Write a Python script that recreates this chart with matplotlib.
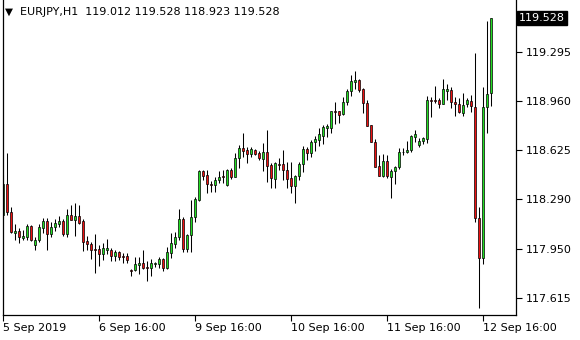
import matplotlib
matplotlib.use("Agg")
import matplotlib.pyplot as plt
from matplotlib.patches import Rectangle

# EURJPY H1 candles (bar 0 = 5 Sep 16:00)
opens = [118.180, 118.392, 118.201, 118.057, 118.071, 118.023, 118.030, 118.105, 117.975, 118.009,
         118.091, 118.139, 118.050, 118.098, 118.119, 118.139, 118.050, 118.180, 118.146, 118.173,
         118.139, 118.002, 117.982, 117.948, 117.948, 117.913, 117.941, 117.941, 117.900, 117.927,
         117.900, 117.900, 117.804, 117.804, 117.838, 117.852, 117.825, 117.818, 117.845, 117.845,
         117.879, 117.818, 117.920, 117.982, 118.030, 118.153, 117.948, 118.043, 118.167, 118.283,
         118.481, 118.454, 118.392, 118.385, 118.420, 118.447, 118.385, 118.488, 118.440, 118.570,
         118.639, 118.625, 118.597, 118.625, 118.604, 118.563, 118.611, 118.522, 118.426, 118.529,
         118.529, 118.488, 118.433, 118.379, 118.447, 118.529, 118.632, 118.604, 118.680, 118.693,
         118.721, 118.775, 118.775, 118.892, 118.892, 118.871, 118.953, 119.028, 119.090, 119.104,
         119.042, 118.946, 118.796, 118.678, 118.513, 118.449, 118.550, 118.442, 118.479, 118.507,
         118.613, 118.609, 118.625, 118.716, 118.661, 118.686, 118.702, 118.965, 118.965, 118.965,
         118.942, 119.030, 119.033, 118.951, 118.937, 118.881, 118.939, 118.960, 118.921, 118.158,
         117.888, 118.921, 119.012]
highs = [118.454, 118.604, 118.235, 118.119, 118.091, 118.078, 118.119, 118.112, 118.030, 118.119,
         118.160, 118.160, 118.132, 118.153, 118.173, 118.153, 118.221, 118.249, 118.262, 118.249,
         118.153, 118.037, 117.996, 118.050, 117.975, 117.989, 118.016, 117.955, 117.941, 117.934,
         117.920, 117.920, 117.811, 117.893, 117.893, 117.941, 117.866, 117.879, 117.859, 117.893,
         117.886, 117.961, 118.057, 118.064, 118.221, 118.167, 118.050, 118.283, 118.303, 118.488,
         118.488, 118.488, 118.413, 118.440, 118.481, 118.488, 118.495, 118.502, 118.604, 118.659,
         118.741, 118.645, 118.645, 118.632, 118.618, 118.673, 118.762, 118.536, 118.543, 118.570,
         118.625, 118.543, 118.543, 118.454, 118.543, 118.652, 118.645, 118.693, 118.721, 118.775,
         118.796, 118.803, 118.892, 118.953, 118.894, 118.987, 119.042, 119.138, 119.165, 119.110,
         119.049, 118.967, 118.799, 118.700, 118.591, 118.595, 118.591, 118.497, 118.517, 118.636,
         118.639, 118.686, 118.725, 118.760, 118.705, 118.714, 118.994, 118.989, 119.063, 118.983,
         119.108, 119.076, 119.058, 118.985, 118.978, 119.015, 118.978, 119.001, 119.290, 118.237,
         119.054, 119.509, 119.528]
lows = [118.160, 118.180, 118.057, 118.009, 117.989, 118.009, 118.009, 118.002, 117.941, 117.996,
        118.057, 117.941, 118.030, 118.071, 118.098, 118.037, 118.030, 118.146, 118.037, 118.119,
        117.934, 117.941, 117.879, 117.784, 117.831, 117.872, 117.913, 117.866, 117.866, 117.872,
        117.852, 117.852, 117.763, 117.797, 117.777, 117.811, 117.729, 117.763, 117.825, 117.818,
        117.797, 117.811, 117.886, 117.955, 118.009, 117.927, 117.927, 117.927, 118.132, 118.276,
        118.420, 118.331, 118.338, 118.338, 118.399, 118.399, 118.379, 118.426, 118.437, 118.502,
        118.577, 118.536, 118.577, 118.591, 118.556, 118.481, 118.406, 118.365, 118.365, 118.488,
        118.420, 118.365, 118.331, 118.262, 118.420, 118.474, 118.556, 118.577, 118.618, 118.652,
        118.666, 118.714, 118.741, 118.803, 118.810, 118.864, 118.933, 118.994, 119.042, 119.022,
        118.878, 118.787, 118.678, 118.507, 118.447, 118.442, 118.431, 118.294, 118.390, 118.495,
        118.591, 118.606, 118.613, 118.682, 118.647, 118.668, 118.671, 118.853, 118.944, 118.914,
        118.939, 118.967, 118.910, 118.859, 118.876, 118.857, 118.921, 118.887, 118.130, 117.546,
        117.843, 118.739, 118.923]
closes = [118.392, 118.201, 118.064, 118.071, 118.030, 118.037, 118.105, 118.009, 118.009, 118.098,
          118.139, 118.050, 118.098, 118.126, 118.139, 118.050, 118.180, 118.146, 118.173, 118.126,
          117.996, 117.982, 117.941, 117.944, 117.913, 117.955, 117.955, 117.900, 117.927, 117.893,
          117.893, 117.872, 117.797, 117.845, 117.852, 117.818, 117.818, 117.852, 117.852, 117.879,
          117.818, 117.927, 117.989, 118.030, 118.153, 117.948, 118.043, 118.167, 118.290, 118.481,
          118.447, 118.392, 118.385, 118.420, 118.440, 118.440, 118.488, 118.440, 118.570, 118.639,
          118.618, 118.597, 118.632, 118.597, 118.570, 118.611, 118.515, 118.433, 118.536, 118.522,
          118.488, 118.426, 118.379, 118.447, 118.529, 118.632, 118.604, 118.680, 118.700, 118.734,
          118.782, 118.789, 118.892, 118.885, 118.864, 118.953, 119.028, 119.097, 119.104, 119.035,
          118.946, 118.792, 118.682, 118.511, 118.449, 118.550, 118.449, 118.481, 118.507, 118.609,
          118.609, 118.625, 118.719, 118.734, 118.684, 118.705, 118.965, 118.958, 118.962, 118.942,
          119.040, 119.042, 118.951, 118.937, 118.883, 118.936, 118.967, 118.926, 118.158, 117.888,
          118.921, 119.006, 119.528]

price_ticks = [117.615, 117.950, 118.290, 118.625, 118.960, 119.295]
date_ticks = [0, 24, 48, 72, 96, 120]
date_labels = ["5 Sep 2019", "6 Sep 16:00", "9 Sep 16:00", "10 Sep 16:00", "11 Sep 16:00", "12 Sep 16:00"]

up_color = "#22DD22"
down_color = "#EE1111"

fig = plt.figure(figsize=(5.8, 3.4), dpi=100)
ax = fig.add_axes([2.5 / 580, 25 / 340, 513.5 / 580, 315 / 340])

x = list(range(len(opens)))
ax.vlines(x, lows, highs, color="black", linewidth=0.75, zorder=1)
for i in x:
    o, c = opens[i], closes[i]
    col = up_color if c >= o else down_color
    bottom = min(o, c)
    h = abs(c - o)
    if h < 0.002:
        ax.hlines(o, i - 0.32, i + 0.32, color="black", linewidth=0.9, zorder=2)
    else:
        ax.add_patch(Rectangle((i - 0.31, bottom), 0.62, h, facecolor=col,
                               edgecolor="black", linewidth=0.5, zorder=2))

ax.set_xlim(-0.125, 128.25)
ax.set_ylim(117.496, 119.651)

ax.spines["top"].set_visible(False)
for s in ax.spines.values():
    s.set_linewidth(0.9)

ax.yaxis.tick_right()
ax.set_yticks(price_ticks)
ax.set_yticklabels([f"{p:.3f}" for p in price_ticks])
ax.set_xticks(date_ticks)
ax.set_xticklabels(date_labels, ha="left")
ax.tick_params(axis="both", direction="out", length=4, width=0.8, labelsize=8, colors="black")
ax.tick_params(axis="x", pad=2)
ax.tick_params(axis="y", pad=3)

# current price box
ax.text(1.006, (119.528 - 117.496) / (119.651 - 117.496), "119.528", transform=ax.transAxes,
        ha="left", va="center", fontsize=8, color="white",
        bbox=dict(boxstyle="square,pad=0.2", facecolor="black", edgecolor="black"))

# header
fig.text(5 / 580, 1 - 12 / 340, "\u25BC", fontsize=7.5, ha="left", va="center", color="black")
fig.text(20 / 580, 1 - 12 / 340, "EURJPY,H1  119.012 119.528 118.923 119.528",
         fontsize=8, ha="left", va="center", color="black")

fig.savefig("out.png", dpi=100, facecolor="white")
